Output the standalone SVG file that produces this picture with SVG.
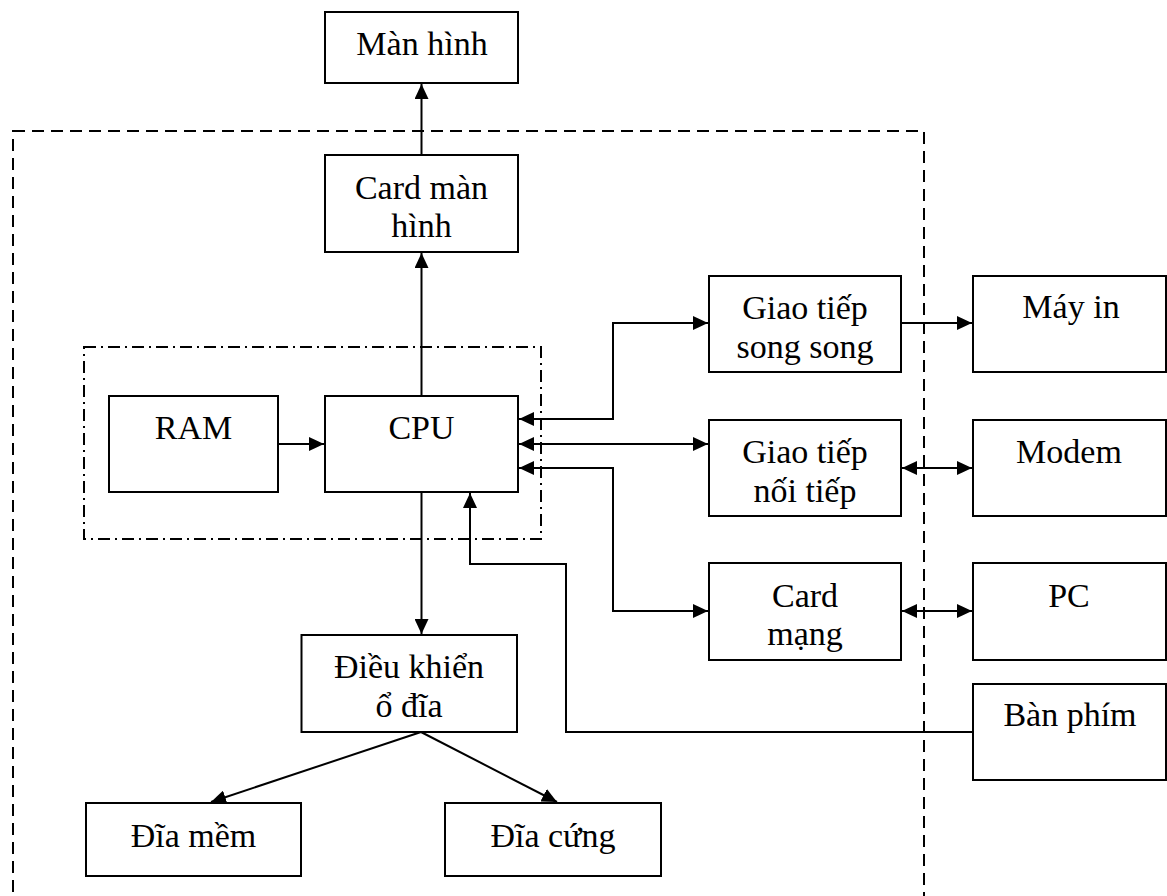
<svg xmlns="http://www.w3.org/2000/svg" width="1167" height="896" viewBox="0 0 1167 896">
<style>
.box{fill:#fff;stroke:#000;stroke-width:2}
.t{font-family:'Liberation Serif','DejaVu Serif',serif;font-size:34px;text-anchor:middle;fill:#000}
.c{fill:none;stroke:#000;stroke-width:2}
.outer{fill:none;stroke:#000;stroke-width:2;stroke-dasharray:12 7}
.dd{fill:none;stroke:#000;stroke-width:2;stroke-dasharray:12 5 2 5}
</style>
<defs>
<marker id="a" markerUnits="userSpaceOnUse" markerWidth="15" markerHeight="14" refX="15" refY="7" orient="auto-start-reverse">
<path d="M0,0 L15,7 L0,14 z" fill="#000"/>
</marker>
</defs>
<rect class="outer" x="13" y="131" width="911" height="790"/>
<rect class="dd" x="84" y="347" width="457" height="192"/>
<g id="connectors">
<path class="c" d="M421.5,155 V84" marker-end="url(#a)"/>
<path class="c" d="M421.5,396 V253" marker-end="url(#a)"/>
<path class="c" d="M278,444 H324" marker-end="url(#a)"/>
<path class="c" d="M519,419 H613 V323 H708" marker-start="url(#a)" marker-end="url(#a)"/>
<path class="c" d="M519,444 H708" marker-start="url(#a)" marker-end="url(#a)"/>
<path class="c" d="M519,468 H613 V611 H708" marker-start="url(#a)" marker-end="url(#a)"/>
<path class="c" d="M901,323 H972" marker-end="url(#a)"/>
<path class="c" d="M902,468 H972" marker-start="url(#a)" marker-end="url(#a)"/>
<path class="c" d="M902,611 H972" marker-start="url(#a)" marker-end="url(#a)"/>
<path class="c" d="M421.5,492 V634" marker-end="url(#a)"/>
<path class="c" d="M973,732 H566 V564 H470 V493" marker-end="url(#a)"/>
<path class="c" d="M421,732 L211,802" marker-end="url(#a)"/>
<path class="c" d="M421,732 L557,802" marker-end="url(#a)"/>
</g>
<g id="man-hinh"><rect class="box" x="325" y="12" width="193" height="71"/><text class="t" font-family="Liberation Serif" x="422" y="55">Màn hình</text></g>
<g id="card-man-hinh"><rect class="box" x="325" y="155" width="193" height="97"/><text class="t" x="421.5" y="199">Card màn</text><text class="t" x="421.5" y="237">hình</text></g>
<g id="ram"><rect class="box" x="109" y="396" width="169" height="96"/><text class="t" x="193.5" y="439">RAM</text></g>
<g id="cpu"><rect class="box" x="325" y="396" width="193" height="96"/><text class="t" x="421.5" y="439">CPU</text></g>
<g id="giao-tiep-song-song"><rect class="box" x="709" y="276" width="192" height="96"/><text class="t" x="805" y="319">Giao tiếp</text><text class="t" x="805" y="358">song song</text></g>
<g id="may-in"><rect class="box" x="973" y="276" width="193" height="96"/><text class="t" x="1071" y="318">Máy in</text></g>
<g id="giao-tiep-noi-tiep"><rect class="box" x="709" y="420" width="192" height="96"/><text class="t" x="805" y="463">Giao tiếp</text><text class="t" x="805" y="502">nối tiếp</text></g>
<g id="modem"><rect class="box" x="973" y="420" width="193" height="96"/><text class="t" x="1069" y="463">Modem</text></g>
<g id="card-mang"><rect class="box" x="709" y="563" width="192" height="97"/><text class="t" x="805" y="607">Card</text><text class="t" x="805" y="645">mạng</text></g>
<g id="pc"><rect class="box" x="973" y="563" width="193" height="97"/><text class="t" x="1069" y="607">PC</text></g>
<g id="ban-phim"><rect class="box" x="973" y="684" width="193" height="96"/><text class="t" x="1070" y="726">Bàn phím</text></g>
<g id="dieu-khien-o-dia"><rect class="box" x="301.5" y="635" width="215.5" height="97"/><text class="t" x="409" y="678">Điều khiển</text><text class="t" x="409" y="717">ổ đĩa</text></g>
<g id="dia-mem"><rect class="box" x="86" y="803" width="215" height="73"/><text class="t" x="193.5" y="847">Đĩa mềm</text></g>
<g id="dia-cung"><rect class="box" x="445" y="803" width="216" height="73"/><text class="t" x="553" y="847">Đĩa cứng</text></g>
</svg>
